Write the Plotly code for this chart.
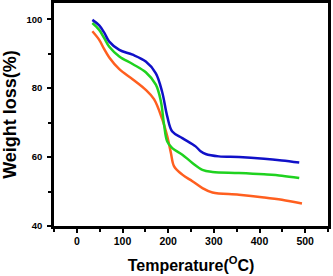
import plotly.graph_objects as go

blue_x = [34, 49, 60, 71, 93, 122, 151, 173, 187, 198, 209, 231, 260, 271, 282, 311, 355, 410, 449, 487]
blue_y = [99.8, 98.2, 96.1, 93.5, 91.1, 89.7, 87.7, 84.3, 78.8, 71.8, 67.4, 65.5, 63.1, 61.7, 60.9, 60.2, 60.0, 59.5, 59.0, 58.4]

green_x = [34, 49, 60, 71, 93, 122, 151, 173, 184, 191, 198, 209, 231, 253, 275, 297, 355, 410, 449, 487]
green_y = [98.9, 96.9, 94.5, 92.0, 89.2, 87.0, 84.6, 81.0, 76.2, 69.4, 64.5, 62.6, 60.7, 58.3, 56.3, 55.7, 55.4, 55.0, 54.6, 53.9]

orange_x = [34, 49, 60, 71, 93, 122, 151, 169, 187, 198, 206, 213, 231, 253, 275, 297, 355, 410, 449, 493]
orange_y = [96.5, 94.0, 91.3, 88.9, 85.5, 82.6, 79.5, 76.8, 71.0, 66.0, 61.2, 57.3, 54.9, 53.0, 51.0, 49.7, 49.1, 48.3, 47.6, 46.5]

x_ticks = [0, 100, 200, 300, 400, 500]
y_ticks = [40, 60, 80, 100]

fig = go.Figure()
for xs, ys, c in [(orange_x, orange_y, "#FF5F1F"), (green_x, green_y, "#1FD21F"), (blue_x, blue_y, "#1010C8")]:
    fig.add_trace(go.Scatter(x=xs, y=ys, mode="lines", line=dict(color=c, width=2.5, shape="spline", smoothing=1.0), showlegend=False))

font_b = "Liberation Sans"
axis_common = dict(showline=True, linecolor="black", linewidth=2.5, mirror=True, ticks="outside",
                   ticklen=4, tickwidth=2, tickcolor="black", showgrid=False, zeroline=False, automargin=False)
fig.update_layout(
    width=333, height=276, margin=dict(l=54, r=5, t=3, b=50),
    plot_bgcolor="white", paper_bgcolor="white",
    xaxis=dict(range=[-50, 550], tickvals=x_ticks, minor=dict(ticks="outside", dtick=50, tick0=0, ticklen=3, tickwidth=1.5, tickcolor="black"),
               tickfont=dict(family=font_b, size=10.5, color="black", weight="bold"),
               title=dict(text="Temperature(<sup>O</sup>C)", font=dict(family=font_b, size=16, color="black", weight="bold"), standoff=14),
               **axis_common),
    yaxis=dict(range=[40, 104.7], tickvals=y_ticks, minor=dict(ticks="outside", dtick=10, tick0=0, ticklen=3, tickwidth=1.5, tickcolor="black"),
               tickfont=dict(family=font_b, size=9.5, color="black", weight="bold"), ticklabelstandoff=3,
               title=dict(text="Weight loss(%)", font=dict(family=font_b, size=18, color="black", weight="bold"), standoff=10),
               **axis_common),
)
fig.write_html("out.html", config={"displayModeBar": False}, post_script="document.body.style.margin='0px';")
